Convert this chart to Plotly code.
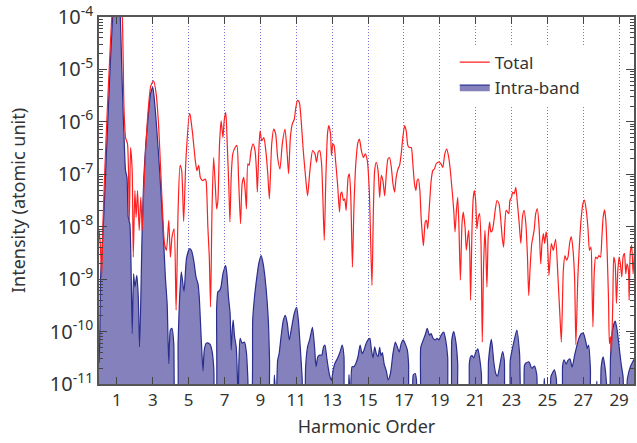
import plotly.graph_objects as go

# ---------------- data (harmonic order, log10 intensity) ----------------
total_x = [0.00,0.07,0.15,0.22,0.33,0.46,0.59,0.70,0.82,1.00,1.20,1.30,1.35,1.39,1.48,1.59,1.69,1.76,1.85,1.91,
           2.00,2.07,2.15,2.24,2.33,2.41,2.48,2.59,2.74,2.89,3.04,3.19,3.33,3.44,3.56,3.65,3.76,3.89,3.98,4.07,
           4.19,4.30,4.41,4.52,4.61,4.72,4.85,5.05,5.09,5.22,5.37,5.46,5.56,5.65,5.78,5.93,5.98,6.07,6.15,6.22,
           6.30,6.39,6.48,6.56,6.63,6.72,6.81,6.91,6.98,7.07,7.15,7.24,7.30,7.37,7.46,7.59,7.69,7.78,7.89,7.98,
           8.07,8.15,8.22,8.30,8.37,8.48,8.59,8.70,8.78,8.83,8.91,8.98,9.07,9.19,9.30,9.41,9.50,9.63,9.74,9.85,
           9.96,10.09,10.22,10.37,10.48,10.57,10.67,10.78,10.89,10.96,11.07,11.17,11.26,11.39,11.52,11.63,11.76,11.91,12.04,12.13,
           12.22,12.31,12.41,12.48,12.56,12.65,12.74,12.81,12.91,12.96,13.04,13.11,13.19,13.30,13.41,13.48,13.54,13.63,13.70,13.78,
           13.89,13.96,14.04,14.13,14.22,14.33,14.44,14.52,14.63,14.74,14.85,14.96,15.07,15.15,15.22,15.30,15.37,15.46,15.56,15.65,
           15.74,15.83,15.93,16.02,16.11,16.20,16.30,16.39,16.48,16.57,16.67,16.76,16.85,16.94,17.04,17.13,17.22,17.31,17.41,17.50,
           17.59,17.67,17.74,17.81,17.89,17.96,18.04,18.09,18.19,18.26,18.33,18.43,18.52,18.61,18.70,18.80,18.89,18.98,19.07,19.17,
           19.28,19.39,19.50,19.59,19.69,19.78,19.85,19.93,20.00,20.07,20.15,20.24,20.31,20.41,20.48,20.56,20.61,20.67,20.72,20.80,
           20.87,20.93,21.00,21.07,21.15,21.22,21.30,21.37,21.44,21.52,21.57,21.63,21.70,21.78,21.85,21.93,22.00,22.09,22.19,22.30,
           22.39,22.48,22.56,22.63,22.70,22.78,22.85,22.91,23.00,23.07,23.15,23.24,23.33,23.43,23.52,23.61,23.70,23.80,23.89,23.96,
           24.04,24.13,24.26,24.35,24.44,24.54,24.63,24.70,24.78,24.85,24.93,25.00,25.09,25.22,25.33,25.46,25.59,25.70,25.78,25.89,
           25.98,26.07,26.15,26.24,26.33,26.43,26.52,26.59,26.70,26.80,26.89,26.98,27.07,27.17,27.26,27.35,27.43,27.48,27.54,27.61,
           27.69,27.78,27.87,27.96,28.04,28.11,28.19,28.26,28.33,28.41,28.46,28.52,28.57,28.65,28.70,28.78,28.85,28.93,29.00,29.07,
           29.15,29.22,29.30,29.37,29.44,29.52,29.56,29.62,29.70,29.78,29.85]
total_log = [-8.07,-8.32,-8.96,-7.94,-6.87,-5.79,-4.84,-4.08,-3.5,-3.2,-3.5,-4.01,-4.84,-5.70,-6.30,-6.42,-7.88,-6.49,-6.93,-8.58,
             -7.31,-7.82,-7.31,-8.07,-7.44,-8.07,-7.44,-6.61,-5.79,-5.31,-5.22,-5.47,-6.11,-6.93,-7.82,-8.32,-8.45,-7.88,-8.58,-8.20,
             -8.04,-9.59,-7.69,-6.83,-6.93,-7.90,-6.70,-5.84,-5.88,-6.23,-6.74,-6.93,-6.83,-7.06,-7.12,-7.09,-7.15,-8.01,-8.58,-9.53,
             -7.69,-6.68,-7.18,-7.66,-7.50,-6.42,-5.98,-6.30,-5.98,-5.82,-6.42,-7.25,-7.91,-7.06,-6.61,-6.49,-6.45,-7.06,-7.94,-7.18,
             -7.06,-7.31,-7.66,-6.80,-6.83,-6.55,-6.42,-6.55,-6.93,-7.34,-6.55,-6.17,-6.36,-6.30,-6.55,-6.99,-7.47,-6.42,-6.14,-6.23,
             -6.68,-6.90,-6.42,-6.14,-6.55,-6.99,-6.30,-6.04,-5.95,-5.76,-5.59,-5.63,-5.92,-6.55,-7.06,-7.41,-6.93,-6.55,-6.61,-6.77,
             -6.58,-6.55,-6.80,-7.44,-8.26,-7.06,-6.23,-6.07,-6.23,-6.64,-6.42,-6.45,-6.74,-7.18,-7.72,-7.37,-7.34,-7.50,-7.47,-7.69,
             -7.06,-6.99,-7.44,-8.77,-7.56,-6.74,-6.39,-6.33,-6.55,-6.68,-6.61,-6.74,-7.31,-8.32,-9.12,-7.69,-6.93,-6.77,-6.93,-7.44,
             -7.02,-7.12,-7.41,-6.99,-6.71,-6.68,-6.87,-7.18,-7.34,-7.06,-6.90,-6.83,-6.61,-6.30,-6.07,-6.17,-6.45,-6.49,-6.49,-6.80,
             -7.18,-7.31,-7.12,-7.09,-7.31,-7.82,-8.20,-8.36,-7.91,-7.88,-8.04,-7.56,-7.12,-6.93,-6.90,-6.80,-6.77,-6.77,-6.80,-6.87,
             -6.61,-6.52,-6.68,-6.93,-7.31,-7.69,-8.10,-7.69,-7.44,-8.01,-9.02,-7.94,-7.72,-8.01,-8.45,-8.20,-8.07,-8.45,-9.40,-8.01,
             -7.44,-7.31,-7.50,-8.04,-7.82,-7.75,-8.32,-10.2,-8.77,-8.07,-8.45,-9.15,-8.20,-7.91,-8.10,-8.07,-7.94,-7.69,-7.50,-7.56,
             -7.82,-8.20,-8.39,-7.94,-7.69,-7.72,-7.75,-7.50,-7.44,-7.34,-7.37,-7.25,-7.56,-7.94,-8.32,-7.82,-7.69,-7.94,-8.58,-9.31,
             -8.77,-8.32,-8.07,-7.75,-7.66,-8.01,-8.71,-8.32,-8.13,-8.32,-8.10,-8.26,-8.93,-8.32,-8.45,-8.24,-8.96,-9.70,-10.2,-8.83,
             -8.55,-8.64,-8.58,-8.32,-8.19,-8.45,-9.00,-10.25,-8.96,-8.26,-7.82,-7.56,-7.49,-7.69,-8.01,-8.45,-8.39,-8.96,-9.91,-8.90,
             -8.58,-8.61,-8.55,-8.58,-8.20,-7.82,-7.68,-7.88,-8.45,-9.40,-10.23,-10.10,-10.42,-9.40,-8.58,-8.71,-9.46,-8.83,-8.58,-8.71,
             -8.96,-8.58,-8.51,-8.90,-8.71,-8.83,-9.40,-8.50,-8.35,-8.90,-8.50]

intra_x = [0.00,0.04,0.09,0.19,0.28,0.37,0.50,0.61,0.74,0.85,1.00,1.12,1.19,1.26,1.33,1.41,1.48,1.56,1.63,1.72,
           1.80,1.85,1.93,2.00,2.11,2.19,2.26,2.33,2.41,2.50,2.61,2.74,2.87,3.00,3.11,3.24,3.37,3.48,3.61,3.70,
           3.80,3.89,3.98,4.07,4.17,4.26,4.36,4.41,4.48,4.59,4.74,4.88,5.05,5.15,5.28,5.41,5.52,5.59,5.67,5.74,
           5.80,5.87,5.98,6.10,6.20,6.30,6.40,6.46,6.52,6.56,6.63,6.72,6.80,6.91,7.06,7.13,7.22,7.31,7.37,7.43,
           7.48,7.56,7.65,7.72,7.76,7.80,7.87,7.98,8.11,8.22,8.30,8.36,8.48,8.57,8.67,8.80,8.91,9.04,9.15,9.31,
           9.44,9.51,9.56,9.70,9.78,9.88,9.96,10.04,10.15,10.28,10.39,10.50,10.61,10.75,10.89,11.02,11.12,11.22,11.33,11.38,
           11.45,11.52,11.63,11.75,11.90,12.02,12.10,12.20,12.30,12.42,12.52,12.60,12.70,12.80,12.87,12.96,13.06,13.15,13.30,13.43,
           13.56,13.66,13.72,13.86,13.94,14.02,14.11,14.22,14.33,14.44,14.56,14.67,14.78,14.89,15.00,15.10,15.19,15.28,15.37,15.46,
           15.56,15.65,15.72,15.80,15.90,16.02,16.12,16.25,16.39,16.52,16.63,16.74,16.85,16.96,17.07,17.19,17.26,17.32,17.45,17.52,
           17.63,17.70,17.76,17.88,17.94,18.08,18.20,18.30,18.43,18.52,18.63,18.75,18.85,18.96,19.07,19.22,19.33,19.44,19.50,19.60,
           19.67,19.78,19.91,20.00,20.08,20.55,20.65,20.72,20.80,20.90,21.00,21.12,21.22,21.32,21.40,21.62,21.72,21.88,22.02,22.12,
           22.22,22.32,22.50,22.60,22.68,22.86,22.93,23.11,23.30,23.45,23.56,23.66,23.72,23.80,23.98,24.13,24.28,24.41,24.50,24.72,
           24.83,24.92,25.12,25.20,25.39,25.50,25.58,25.78,25.85,25.93,26.05,26.15,26.26,26.38,26.52,26.63,26.76,26.89,27.00,27.15,
           27.22,27.30,27.40,27.46,27.70,27.76,27.82,27.92,28.00,28.11,28.20,28.30,28.36,28.44,28.52,28.63,28.78,28.89,29.00,29.11,
           29.22,29.30,29.38,29.46,29.63,29.85]
intra_log = [-10.6,-10.2,-8.96,-8.32,-7.69,-6.93,-5.91,-5.03,-4.14,-3.6,-3.3,-3.6,-4.01,-4.84,-5.66,-6.42,-6.93,-7.06,-7.82,-7.95,
             -9.0,-10.04,-8.90,-9.15,-8.93,-9.34,-10.29,-9.40,-8.01,-7.06,-6.42,-5.91,-5.47,-5.34,-5.66,-6.23,-6.87,-7.50,-8.32,-8.96,
             -9.47,-10.61,-9.97,-9.94,-10.23,-11.4,-11.4,-10.23,-9.47,-8.86,-9.24,-8.60,-8.42,-8.45,-8.64,-8.96,-9.09,-9.34,-9.91,-10.42,
             -10.75,-10.35,-10.22,-10.22,-10.25,-10.37,-10.7,-11.4,-11.4,-9.55,-9.24,-9.22,-9.15,-8.90,-8.74,-8.90,-9.34,-9.65,-10.35,-9.97,
             -9.78,-10.1,-10.29,-10.9,-11.4,-10.6,-10.13,-10.22,-10.2,-10.4,-10.9,-11.4,-11.4,-9.78,-9.34,-8.96,-8.70,-8.55,-8.70,-9.15,
             -9.78,-10.55,-11.4,-11.4,-10.83,-11.4,-10.55,-10.43,-10.10,-9.78,-9.69,-9.85,-10.16,-9.90,-9.65,-9.54,-9.80,-10.29,-10.9,-11.4,
             -11.4,-10.67,-10.29,-10.15,-9.92,-10.3,-10.67,-10.48,-10.45,-10.45,-10.29,-10.26,-10.5,-10.73,-10.85,-10.93,-10.73,-10.61,-10.51,-10.40,
             -10.26,-10.48,-11.4,-11.4,-10.82,-11.4,-10.67,-10.67,-10.6,-10.48,-10.26,-10.42,-10.35,-10.23,-10.16,-10.13,-10.35,-10.50,-10.29,-10.42,
             -10.48,-10.30,-10.46,-10.40,-10.62,-10.75,-10.92,-10.80,-10.42,-10.20,-10.29,-10.39,-10.23,-10.16,-10.23,-10.35,-10.61,-11.4,-11.4,-10.83,
             -10.80,-10.92,-11.4,-11.4,-10.3,-10.16,-10.05,-9.94,-10.07,-10.04,-10.13,-10.16,-10.13,-10.16,-10.07,-10.01,-10.16,-10.48,-11.4,-11.4,
             -10.16,-10.0,-10.23,-10.61,-11.4,-11.4,-10.6,-10.48,-10.46,-10.50,-10.40,-10.33,-10.50,-10.8,-11.4,-11.4,-10.55,-10.15,-10.6,-10.8,
             -10.85,-10.7,-10.38,-10.55,-11.4,-11.4,-10.55,-10.23,-9.97,-10.42,-11.4,-11.4,-10.65,-10.60,-10.58,-10.70,-10.66,-10.83,-11.4,-11.4,
             -10.89,-11.4,-11.4,-10.86,-10.73,-10.9,-11.4,-11.4,-10.65,-10.54,-10.62,-10.55,-10.52,-10.68,-10.45,-10.29,-10.13,-10.04,-10.03,-10.2,
             -10.32,-10.26,-10.7,-11.4,-11.4,-10.95,-11.4,-11.4,-10.67,-10.48,-10.65,-11.0,-11.4,-11.4,-10.48,-9.97,-9.80,-9.97,-10.29,-10.61,
             -10.86,-11.4,-11.4,-10.9,-10.67,-10.52]

harmonic_ticks = list(range(1, 30, 2))
decades = list(range(-11, -3))
floor_log = -12.5

# ---------------- figure ----------------
fig = go.Figure()

fig.add_trace(go.Scatter(
    x=intra_x, y=[10 ** floor_log] * len(intra_x), mode="lines",
    line=dict(width=0, color="rgba(0,0,0,0)"), showlegend=False, hoverinfo="skip"))
fig.add_trace(go.Scatter(
    x=intra_x, y=[10 ** v for v in intra_log], mode="lines", name="Intra-band",
    fill="tonexty", fillcolor="#8581bd",
    line=dict(color="#2a2e8e", width=1.2, shape="spline", smoothing=0.6)))
fig.add_trace(go.Scatter(
    x=total_x, y=[10 ** v for v in total_log], mode="lines", name="Total",
    line=dict(color="#ff1f1f", width=1.2, shape="spline", smoothing=0.6)))

axis_font = dict(family="Noto Sans", size=18, color="#333333")
minor_vals = [m * 10 ** d for d in decades[:-1] for m in range(2, 10)]
major_vals = [10 ** d for d in decades]

fig.update_layout(
    width=637, height=443,
    margin=dict(l=99, r=1, t=16, b=59),
    paper_bgcolor="white", plot_bgcolor="white",
    font=dict(family="Noto Sans", color="#333333"),
    showlegend=True,
    legend=dict(x=0.665, y=0.925, xanchor="left", yanchor="top",
                bgcolor="white", font=dict(family="Noto Sans", size=17, color="#333333"),
                traceorder="reversed", itemwidth=30, borderwidth=0, tracegroupgap=0),
    xaxis=dict(
        range=[0, 29.83], tickmode="array", tickvals=harmonic_ticks,
        ticktext=[str(v) for v in harmonic_ticks],
        ticks="inside", ticklen=7, tickwidth=1.2, tickcolor="#444",
        showline=True, linecolor="#555", linewidth=1.5, mirror="ticks",
        showgrid=True, gridcolor="rgba(80,80,210,0.8)", gridwidth=1, griddash="1px,2px",
        zeroline=False, ticklabeloverflow="allow",
        tickfont=dict(family="Noto Sans", size=17, color="#333333"),
        title=dict(text="Harmonic Order", font=axis_font, standoff=10)),
    yaxis=dict(
        type="log", range=[-11, -4], tickmode="array",
        tickvals=major_vals,
        ticktext=["10<sup>%d</sup>" % d for d in decades],
        ticks="inside", ticklen=8, tickwidth=1.2, tickcolor="#444",
        minor=dict(tickmode="array", tickvals=minor_vals,
                   ticks="inside", ticklen=4, tickcolor="#444", showgrid=False),
        showline=True, linecolor="#555", linewidth=1.5, mirror="ticks",
        showgrid=False, zeroline=False, ticklabeloverflow="allow",
        tickfont=dict(family="Noto Sans", size=20, color="#333333"),
        title=dict(text="Intensity (atomic unit)", font=axis_font, standoff=20)),
    yaxis2=dict(
        type="log", range=[-11, -4], overlaying="y", side="right",
        tickmode="array", tickvals=major_vals, showticklabels=False,
        ticks="inside", ticklen=8, tickwidth=1.2, tickcolor="#444",
        minor=dict(tickmode="array", tickvals=minor_vals,
                   ticks="inside", ticklen=4, tickcolor="#444", showgrid=False),
        showline=False, showgrid=False, zeroline=False),
)

fig.write_html("out.html")
